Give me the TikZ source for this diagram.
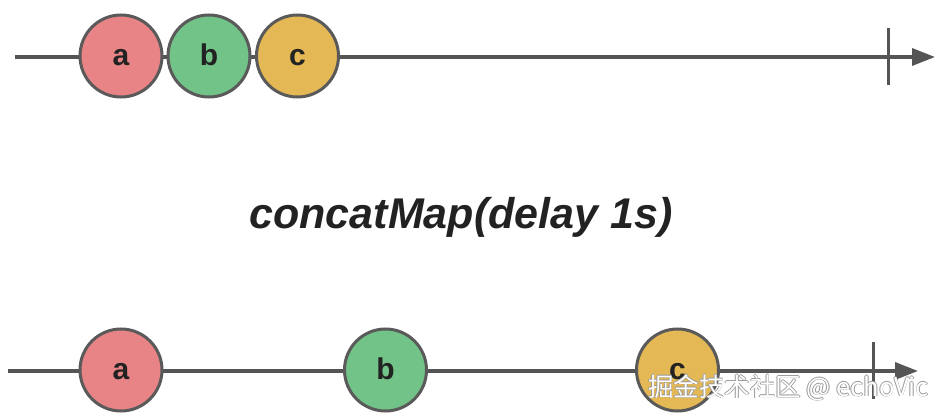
\documentclass[tikz,border=0pt]{standalone}
\usepackage{fontspec}
\setmainfont{Liberation Sans}
\newfontfamily\cjkfont{Noto Sans CJK SC}
\usetikzlibrary{arrows.meta}
\definecolor{axis}{HTML}{555555}
\definecolor{rim}{HTML}{5A5A5A}
\definecolor{redfill}{HTML}{E88485}
\definecolor{greenfill}{HTML}{72C387}
\definecolor{yellowfill}{HTML}{E4B855}
\definecolor{inkc}{HTML}{222222}
\definecolor{wmgray}{HTML}{9A9A9A}
\tikzset{
  timeline/.style={draw=axis, line width=3.5pt, -{Triangle[length=23pt,width=17pt]}},
  tickmark/.style={draw=axis, line width=3pt},
  marble/.style={circle, draw=rim, line width=3pt, minimum size=82pt, inner sep=0pt,
    text height=19pt, text depth=0pt,
    font=\fontsize{30}{30}\selectfont\bfseries, text=inkc},
  wm/.style={font=\cjkfont\fontsize{25.5}{25.5}\selectfont, anchor=base west},
}
\begin{document}
\begin{tikzpicture}[x=1pt,y=-1pt]
\useasboundingbox (0,0) rectangle (938,417);
% top timeline
\coordinate (ts) at (15,57);
\coordinate (te) at (935,57);
\coordinate (ttA) at (888,28);
\coordinate (ttB) at (888,85);
\draw[timeline] (ts) -- (te);
\draw[tickmark] (ttA) -- (ttB);
\node[marble, fill=redfill] (ta) at (121,56) {a};
\node[marble, fill=greenfill] (tb) at (209,56) {b};
\node[marble, fill=yellowfill] (tc) at (297.5,56) {c};
% title
\node[anchor=base, font=\fontsize{43}{43}\selectfont\bfseries\itshape, text=inkc] (title) at (461,229) {concatMap(delay 1s)};
% bottom timeline
\coordinate (bs) at (8,371);
\coordinate (be) at (918,371);
\coordinate (btA) at (873,342);
\coordinate (btB) at (873,399);
\draw[timeline] (bs) -- (be);
\draw[tickmark] (btA) -- (btB);
\node[marble, fill=redfill] (ba) at (121,370) {a};
\node[marble, fill=greenfill] (bb) at (385.5,370) {b};
\node[marble, fill=yellowfill] (bc) at (677.5,370) {c};
% watermark
\node[wm, text=wmgray] (wm1) at (643.7,396) {掘金技术社区 @ echoVic};
\node[wm, text=wmgray] (wm2) at (645.3,396) {掘金技术社区 @ echoVic};
\node[wm, text=wmgray] (wm3) at (644.5,395.2) {掘金技术社区 @ echoVic};
\node[wm, text=wmgray] (wm4) at (644.5,396.8) {掘金技术社区 @ echoVic};
\node[wm, text=white] (wm5) at (644.5,396) {掘金技术社区 @ echoVic};
\end{tikzpicture}
\end{document}
